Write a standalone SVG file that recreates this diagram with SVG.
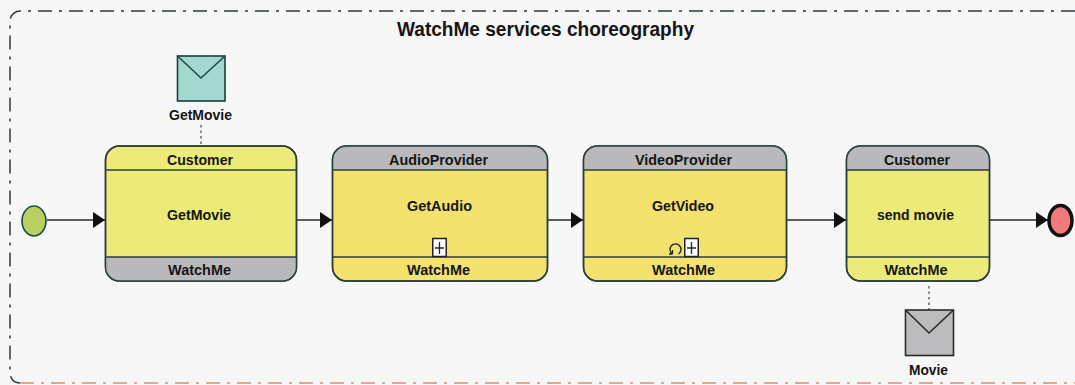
<svg xmlns="http://www.w3.org/2000/svg" width="1075" height="385" viewBox="0 0 1075 385">
<defs>
<marker id="arr" markerUnits="userSpaceOnUse" markerWidth="13" markerHeight="16" refX="12" refY="8" orient="auto"><path d="M0,0 L12,8 L0,16 Z" fill="#111"/></marker>
</defs>
<style>
text{font-family:"Liberation Sans",Arial,sans-serif;font-weight:700;font-size:15px;fill:#151515;text-anchor:middle}
.b{stroke:#2c3e3e;stroke-width:1.5}
.c{stroke:#2a2a2a;stroke-width:1.5;fill:none}
.d{stroke:#444;stroke-width:1.2;stroke-dasharray:2.500 3}
.y{fill:#ecea78}.o{fill:#f3e26e}.g{fill:#b9b9bb}
</style>
<rect width="1075" height="385" fill="#f7f7f8"/>
<path d="M1075,11 H20 A10,10 0 0 0 10,21 V373 A10,10 0 0 0 20,383" fill="none" stroke="#2c3a3e" stroke-width="1.500" stroke-dasharray="14 7 3 7"/>
<path d="M20,383 H1075" fill="none" stroke="#c9947e" stroke-width="1.500" stroke-dasharray="14 7 3 7"/>
<text x="545.500" y="36" style="font-size:20px" textLength="297" lengthAdjust="spacingAndGlyphs">WatchMe services choreography</text>
<g id="connectors">
<line class="c" x1="47" y1="220" x2="105" y2="220" marker-end="url(#arr)"/>
<line class="c" x1="297" y1="220" x2="332" y2="220" marker-end="url(#arr)"/>
<line class="c" x1="548" y1="220" x2="583" y2="220" marker-end="url(#arr)"/>
<line class="c" x1="787" y1="220" x2="846" y2="220" marker-end="url(#arr)"/>
<line class="c" x1="990" y1="220" x2="1048" y2="220" marker-end="url(#arr)"/>
<line class="d" x1="201" y1="125" x2="201" y2="146"/>
<line class="d" x1="929" y1="286" x2="929" y2="310"/>
</g>
<g id="start"><ellipse cx="34" cy="221" rx="12" ry="15" fill="#b9cf62" stroke="#1f4a4a" stroke-width="1.6"/></g>
<g id="end"><ellipse cx="1060.500" cy="220.500" rx="11.500" ry="15" fill="#f27a7a" stroke="#111" stroke-width="3.5"/></g>
<g id="msg-getmovie">
<rect x="177.500" y="56" width="47.500" height="45" fill="#a2d8d0" stroke="#1c3e3e" stroke-width="1.6"/>
<path d="M177.500,56 L201,78 L225,56" fill="none" stroke="#1c4a4a" stroke-width="1.6"/>
<text x="200.500" y="119.500" textLength="63" lengthAdjust="spacingAndGlyphs">GetMovie</text>
</g>
<g id="msg-movie">
<rect x="905.500" y="310" width="48" height="45.500" fill="#bcbcbe" stroke="#2a2a2a" stroke-width="1.6"/>
<path d="M905.500,310 L929,333 L953.500,310" fill="none" stroke="#2a2a2a" stroke-width="1.6"/>
<text x="928.500" y="375" textLength="39" lengthAdjust="spacingAndGlyphs">Movie</text>
</g>
<g id="task1">
<rect class="y b" x="105.500" y="146" width="191" height="135" rx="14"/>
<path class="g" d="M105.500,257 H296.500 V267 A14,14 0 0 1 282.500,281 H119.500 A14,14 0 0 1 105.500,267 Z"/>
<rect x="105.500" y="146" width="191" height="135" rx="14" fill="none" class="b"/>
<line class="b" x1="105.500" y1="170" x2="296.500" y2="170"/>
<line class="b" x1="105.500" y1="257" x2="296.500" y2="257"/>
<text x="200" y="165" textLength="66" lengthAdjust="spacingAndGlyphs">Customer</text><text x="199" y="220" textLength="64" lengthAdjust="spacingAndGlyphs">GetMovie</text><text x="199.500" y="275" textLength="63" lengthAdjust="spacingAndGlyphs">WatchMe</text>
</g>
<g id="task2">
<rect class="o b" x="332.500" y="146" width="215" height="135" rx="14"/>
<path class="g" d="M332.500,170 V160 A14,14 0 0 1 346.500,146 H533.500 A14,14 0 0 1 547.500,160 V170 Z"/>
<rect x="332.500" y="146" width="215" height="135" rx="14" fill="none" class="b"/>
<line class="b" x1="332.500" y1="170" x2="547.500" y2="170"/>
<line class="b" x1="332.500" y1="257" x2="547.500" y2="257"/>
<text x="438.500" y="165" textLength="99" lengthAdjust="spacingAndGlyphs">AudioProvider</text><text x="439.500" y="211" textLength="65" lengthAdjust="spacingAndGlyphs">GetAudio</text><text x="438.500" y="275" textLength="63" lengthAdjust="spacingAndGlyphs">WatchMe</text>
<rect x="432.750" y="238.500" width="13.500" height="18" fill="#fff" stroke="#222" stroke-width="1.5"/>
<path d="M439.500,242 V254 M435,248 H444" stroke="#222" stroke-width="1.3" fill="none"/>
</g>
<g id="task3">
<rect class="o b" x="583.500" y="146" width="203" height="135" rx="14"/>
<path class="g" d="M583.500,170 V160 A14,14 0 0 1 597.500,146 H772.500 A14,14 0 0 1 786.500,160 V170 Z"/>
<rect x="583.500" y="146" width="203" height="135" rx="14" fill="none" class="b"/>
<line class="b" x1="583.500" y1="170" x2="786.500" y2="170"/>
<line class="b" x1="583.500" y1="257" x2="786.500" y2="257"/>
<text x="683.500" y="165" textLength="97" lengthAdjust="spacingAndGlyphs">VideoProvider</text><text x="683" y="211" textLength="62" lengthAdjust="spacingAndGlyphs">GetVideo</text><text x="683.500" y="275" textLength="63" lengthAdjust="spacingAndGlyphs">WatchMe</text>
<rect x="684.750" y="238.500" width="13.500" height="18" fill="#fff" stroke="#222" stroke-width="1.5"/>
<path d="M691.500,242 V254 M687,248 H696" stroke="#222" stroke-width="1.3" fill="none"/>
<path d="M678.500,254 A5.500,5.500 0 1 0 672.500,254 M672.500,254 V250 M672.500,254 H669" stroke="#222" stroke-width="1.3" fill="none"/>
</g>
<g id="task4">
<rect class="y b" x="846.500" y="146" width="143" height="135" rx="14"/>
<path class="g" d="M846.500,170 V160 A14,14 0 0 1 860.500,146 H975.500 A14,14 0 0 1 989.500,160 V170 Z"/>
<rect x="846.500" y="146" width="143" height="135" rx="14" fill="none" class="b"/>
<line class="b" x1="846.500" y1="170" x2="989.500" y2="170"/>
<line class="b" x1="846.500" y1="257" x2="989.500" y2="257"/>
<text x="917" y="165" textLength="66" lengthAdjust="spacingAndGlyphs">Customer</text><text x="915.500" y="220" textLength="77" lengthAdjust="spacingAndGlyphs">send movie</text><text x="916" y="275" textLength="63" lengthAdjust="spacingAndGlyphs">WatchMe</text>
</g>
</svg>
